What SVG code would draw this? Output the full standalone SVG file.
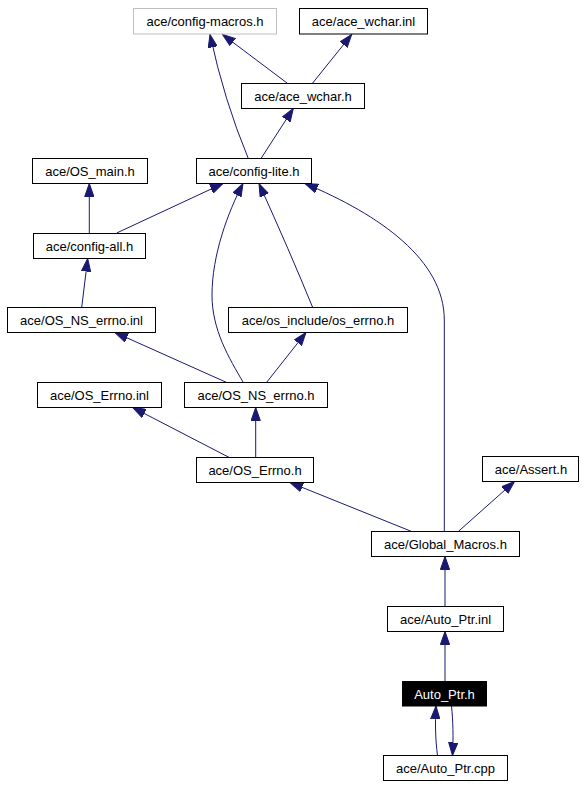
<svg xmlns="http://www.w3.org/2000/svg" width="584" height="787" viewBox="0 0 584 787">
<style>
.box{fill:#ffffff;stroke:#000000;stroke-width:1}
.gray{fill:#ffffff;stroke:#bfbfbf;stroke-width:1}
.cur{fill:#000000;stroke:#000000;stroke-width:1}
.t{font-family:"Liberation Sans",Arial,sans-serif;font-size:13px;fill:#000000;text-anchor:middle}
.tw{font-family:"Liberation Sans",Arial,sans-serif;font-size:13px;fill:#ffffff;text-anchor:middle}
.e{fill:none;stroke:#191970;stroke-width:1;marker-end:url(#ah)}
</style>
<defs>
<marker id="ah" markerUnits="userSpaceOnUse" markerWidth="14" markerHeight="10" viewBox="0 0 14 10" refX="13" refY="5" orient="auto">
<path d="M0,0.4 L13,5 L0,9.6 Z" fill="#191970" stroke="#191970" stroke-width="1"/>
</marker>
</defs>
<rect width="584" height="787" fill="#ffffff"/>
<g id="edges">
<path class="e" d="M287,83 L222.5,34.5"/>
<path class="e" d="M312.7,83 L351.7,34.5"/>
<path class="e" d="M248.3,158.5 Q224,100 210,34.5"/>
<path class="e" d="M261,158.5 L293.3,108.5"/>
<path class="e" d="M89.3,233.5 L89.3,183.5"/>
<path class="e" d="M116.7,233 L223,183.5"/>
<path class="e" d="M81.7,307.5 L87.7,258.5"/>
<path class="e" d="M226.7,382.5 L115,332.5"/>
<path class="e" d="M243.3,382.5 C229,358 212,330 212,295 C212,255 228,212 243,183.5"/>
<path class="e" d="M266.5,382.5 L306,332.5"/>
<path class="e" d="M312.7,307.5 Q290,252 259,183.5"/>
<path class="e" d="M229.3,457.5 L132.7,407.5"/>
<path class="e" d="M255.7,457.5 L255.7,407.5"/>
<path class="e" d="M411.7,531.5 L290,482.5"/>
<path class="e" d="M458.3,531.5 L514.5,481.5"/>
<path class="e" d="M444.3,531.5 L444.3,320 C444.3,260 380,215 305,183.5"/>
<path class="e" d="M445,606.5 L445,556.5"/>
<path class="e" d="M445,681.5 L445,631.5"/>
<path class="e" d="M437.5,755.5 C435.5,740 435,725 436,706"/>
<path class="e" d="M451.5,706 C453,720 453.5,738 452.5,755.5"/>
</g>
<g id="n_cfgmacros"><rect class="gray" x="133.5" y="8.5" width="143" height="25.5"/><text class="t" x="205" y="26">ace/config-macros.h</text></g>
<g id="n_wcharinl"><rect class="box" x="299.5" y="8.5" width="128" height="25.5"/><text class="t" x="363.5" y="26">ace/ace_wchar.inl</text></g>
<g id="n_wcharh"><rect class="box" x="241.5" y="83.5" width="123" height="25"/><text class="t" x="303" y="100.8">ace/ace_wchar.h</text></g>
<g id="n_cfglite"><rect class="box" x="196.5" y="158.5" width="115" height="25"/><text class="t" x="254" y="175.8">ace/config-lite.h</text></g>
<g id="n_osmain"><rect class="box" x="32.5" y="158.5" width="115" height="25"/><text class="t" x="90" y="175.8">ace/OS_main.h</text></g>
<g id="n_cfgall"><rect class="box" x="33.5" y="233.5" width="112" height="25"/><text class="t" x="89.5" y="250.8">ace/config-all.h</text></g>
<g id="n_nserrinl"><rect class="box" x="7.5" y="307.5" width="148" height="25"/><text class="t" x="81.5" y="324.8">ace/OS_NS_errno.inl</text></g>
<g id="n_osinc"><rect class="box" x="228.5" y="307.5" width="179" height="25"/><text class="t" x="318" y="324.8">ace/os_include/os_errno.h</text></g>
<g id="n_errinl"><rect class="box" x="37.5" y="382.5" width="124" height="25"/><text class="t" x="99.5" y="399.8">ace/OS_Errno.inl</text></g>
<g id="n_nserrh"><rect class="box" x="184.5" y="382.5" width="143" height="25"/><text class="t" x="256" y="399.8">ace/OS_NS_errno.h</text></g>
<g id="n_errh"><rect class="box" x="196.5" y="457.5" width="117" height="25"/><text class="t" x="255" y="474.8">ace/OS_Errno.h</text></g>
<g id="n_assert"><rect class="box" x="482.5" y="456.5" width="96" height="25"/><text class="t" x="531" y="473.8">ace/Assert.h</text></g>
<g id="n_gm"><rect class="box" x="371.5" y="531.5" width="148" height="25"/><text class="t" x="445.5" y="548.8">ace/Global_Macros.h</text></g>
<g id="n_apinl"><rect class="box" x="387.5" y="606.5" width="116" height="25"/><text class="t" x="445.5" y="623.8">ace/Auto_Ptr.inl</text></g>
<g id="n_aph"><rect class="cur" x="402.5" y="681.5" width="84" height="24.5"/><text class="tw" x="444.5" y="698.8">Auto_Ptr.h</text></g>
<g id="n_apcpp"><rect class="box" x="383.5" y="755.5" width="124" height="25"/><text class="t" x="445.5" y="772.8">ace/Auto_Ptr.cpp</text></g>
</svg>
